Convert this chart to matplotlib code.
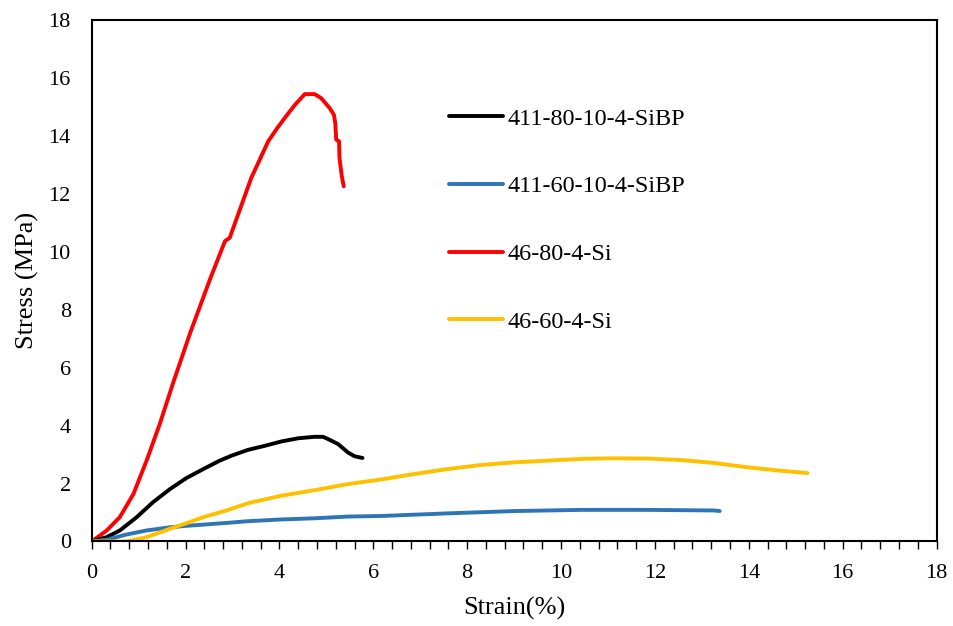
import matplotlib
matplotlib.use("Agg")
import matplotlib.pyplot as plt
from matplotlib.ticker import MultipleLocator

plt.rcParams['font.family'] = ['Liberation Serif', 'DejaVu Serif']

# Data (strain %, stress MPa)
######################################################################################################
red_x = [0, 0.32, 0.60, 0.89, 1.17, 1.45, 1.75, 2.10, 2.52, 2.84, 2.94, 3.12, 3.40, 3.76, 3.95, 4.11,
         4.33, 4.54, 4.75, 4.89, 5.07, 5.16, 5.19, 5.21, 5.27, 5.28, 5.33, 5.37]
red_y = [0, 0.38, 0.84, 1.64, 2.79, 4.05, 5.54, 7.20, 9.04, 10.36, 10.47, 11.28, 12.54, 13.80, 14.25, 14.60,
         15.06, 15.43, 15.43, 15.29, 14.95, 14.72, 14.43, 13.86, 13.80, 13.22, 12.59, 12.25]

black_x = [0, 0.32, 0.60, 0.96, 1.31, 1.67, 2.02, 2.38, 2.73, 2.98, 3.33, 3.69, 4.04, 4.40, 4.75,
           4.93, 5.04, 5.25, 5.46, 5.60, 5.77]
black_y = [0, 0.15, 0.38, 0.84, 1.36, 1.81, 2.19, 2.50, 2.79, 2.96, 3.16, 3.30, 3.45, 3.56, 3.61,
           3.61, 3.53, 3.36, 3.07, 2.94, 2.88]

blue_x = [0, 0.32, 0.74, 1.17, 1.67, 2.02, 2.87, 3.33, 4.04, 4.75, 5.46, 6.17, 7.59, 9.01,
          10.43, 11.84, 13.26, 13.38]
blue_y = [0, 0.06, 0.24, 0.38, 0.49, 0.54, 0.64, 0.70, 0.76, 0.80, 0.86, 0.88, 0.97, 1.05,
          1.09, 1.09, 1.07, 1.05]

yellow_x = [0, 0.32, 0.74, 1.17, 1.67, 2.02, 2.38, 2.87, 3.33, 4.04, 4.75, 5.46, 6.17,
            6.88, 7.59, 8.30, 9.01, 9.72, 10.43, 11.13, 11.84, 12.55, 13.26, 13.97, 14.68, 15.25]
yellow_y = [0, 0.0, 0.0, 0.15, 0.44, 0.63, 0.84, 1.07, 1.32, 1.58, 1.77, 1.98, 2.14,
            2.33, 2.50, 2.64, 2.73, 2.79, 2.85, 2.87, 2.86, 2.81, 2.71, 2.56, 2.44, 2.36]

series = [("411-80-10-4-SiBP", black_x, black_y, "black"),
          ("411-60-10-4-SiBP", blue_x, blue_y, "#2e75b6"),
          ("46-80-4-Si", red_x, red_y, "#ff0000"),
          ("46-60-4-Si", yellow_x, yellow_y, "#ffc000")]

# Plot
######################################################################################################
fig = plt.figure(figsize=(9.54, 6.26), dpi=100)
ax = fig.add_axes([0.0961, 0.135, 0.8856, 0.8337])

# draw order: keep yellow over blue
for name, xs, ys, col in [series[2], series[0], series[1], series[3]]:
    ax.plot(xs, ys, color=col, linewidth=2.8, label=name,
            solid_capstyle='round', solid_joinstyle='round')

ax.set_xlim(0, 18)
ax.set_ylim(0, 18)
ax.xaxis.set_major_locator(MultipleLocator(2))
ax.xaxis.set_minor_locator(MultipleLocator(0.4))
ax.yaxis.set_major_locator(MultipleLocator(2))

ax.tick_params(axis='x', which='both', direction='out', length=6, width=1, pad=10, labelsize=16)
ax.tick_params(axis='y', which='both', length=0, pad=15, labelsize=16)
for sp in ax.spines.values():
    sp.set_linewidth(1.5)

ax.set_xlabel("Strain(%)", fontsize=19, labelpad=10)
ax.set_ylabel("Stress (MPa)", fontsize=19, labelpad=7)

handles, labels = ax.get_legend_handles_labels()
order = [labels.index(s[0]) for s in series]
ax.legend([handles[i] for i in order], [labels[i] for i in order],
          loc='upper left', bbox_to_anchor=(0.471, 0.828), bbox_transform=fig.transFigure,
          frameon=False, fontsize=17.5, handlelength=2.2, handletextpad=0.2,
          labelspacing=1.88, borderpad=0, borderaxespad=0)

fig.savefig("out.png", dpi=100)
